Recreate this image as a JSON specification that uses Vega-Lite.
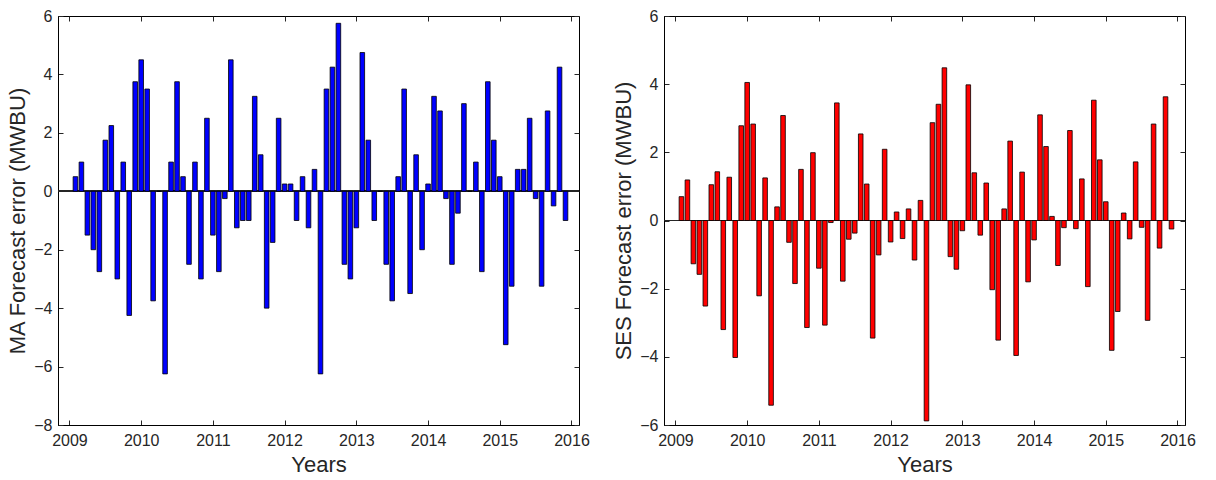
{
  "$schema": "https://vega.github.io/schema/vega-lite/v6.json",
  "background": "white",
  "padding": {"left": 6, "top": 7, "right": 5, "bottom": 5},
  "bounds": "flush",
  "spacing": 85,
  "data": {"values": [
    {"t":2009.0833,"ma":0.5,"ses":0.70},
    {"t":2009.1667,"ma":1.0,"ses":1.19},
    {"t":2009.25,"ma":-1.5,"ses":-1.27},
    {"t":2009.3333,"ma":-2.0,"ses":-1.58},
    {"t":2009.4167,"ma":-2.75,"ses":-2.51},
    {"t":2009.5,"ma":1.75,"ses":1.05},
    {"t":2009.5833,"ma":2.25,"ses":1.43},
    {"t":2009.6667,"ma":-3.0,"ses":-3.20},
    {"t":2009.75,"ma":1.0,"ses":1.27},
    {"t":2009.8333,"ma":-4.25,"ses":-4.02},
    {"t":2009.9167,"ma":3.75,"ses":2.78},
    {"t":2010,"ma":4.5,"ses":4.05},
    {"t":2010.0833,"ma":3.5,"ses":2.83},
    {"t":2010.1667,"ma":-3.75,"ses":-2.21},
    {"t":2010.25,"ma":0,"ses":1.25},
    {"t":2010.3333,"ma":-6.25,"ses":-5.42},
    {"t":2010.4167,"ma":1.0,"ses":0.40},
    {"t":2010.5,"ma":3.75,"ses":3.08},
    {"t":2010.5833,"ma":0.5,"ses":-0.64},
    {"t":2010.6667,"ma":-2.5,"ses":-1.85},
    {"t":2010.75,"ma":1.0,"ses":1.50},
    {"t":2010.8333,"ma":-3.0,"ses":-3.14},
    {"t":2010.9167,"ma":2.5,"ses":1.99},
    {"t":2011,"ma":-1.5,"ses":-1.40},
    {"t":2011.0833,"ma":-2.75,"ses":-3.07},
    {"t":2011.1667,"ma":-0.25,"ses":-0.06},
    {"t":2011.25,"ma":4.5,"ses":3.45},
    {"t":2011.3333,"ma":-1.25,"ses":-1.78},
    {"t":2011.4167,"ma":-1.0,"ses":-0.55},
    {"t":2011.5,"ma":-1.0,"ses":-0.37},
    {"t":2011.5833,"ma":3.25,"ses":2.54},
    {"t":2011.6667,"ma":1.25,"ses":1.07},
    {"t":2011.75,"ma":-4.0,"ses":-3.45},
    {"t":2011.8333,"ma":-1.75,"ses":-1.01},
    {"t":2011.9167,"ma":2.5,"ses":2.09},
    {"t":2012,"ma":0.25,"ses":-0.63},
    {"t":2012.0833,"ma":0.25,"ses":0.25},
    {"t":2012.1667,"ma":-1.0,"ses":-0.53},
    {"t":2012.25,"ma":0.5,"ses":0.34},
    {"t":2012.3333,"ma":-1.25,"ses":-1.16},
    {"t":2012.4167,"ma":0.75,"ses":0.59},
    {"t":2012.5,"ma":-6.25,"ses":-5.88},
    {"t":2012.5833,"ma":3.5,"ses":2.87},
    {"t":2012.6667,"ma":4.25,"ses":3.41},
    {"t":2012.75,"ma":5.75,"ses":4.48},
    {"t":2012.8333,"ma":-2.5,"ses":-1.06},
    {"t":2012.9167,"ma":-3.0,"ses":-1.43},
    {"t":2013,"ma":-1.25,"ses":-0.30},
    {"t":2013.0833,"ma":4.75,"ses":3.98},
    {"t":2013.1667,"ma":1.75,"ses":1.40},
    {"t":2013.25,"ma":-1.0,"ses":-0.43},
    {"t":2013.3333,"ma":0,"ses":1.10},
    {"t":2013.4167,"ma":-2.5,"ses":-2.03},
    {"t":2013.5,"ma":-3.75,"ses":-3.51},
    {"t":2013.5833,"ma":0.5,"ses":0.34},
    {"t":2013.6667,"ma":3.5,"ses":2.33},
    {"t":2013.75,"ma":-3.5,"ses":-3.96},
    {"t":2013.8333,"ma":1.25,"ses":1.42},
    {"t":2013.9167,"ma":-2.0,"ses":-1.80},
    {"t":2014,"ma":0.25,"ses":-0.57},
    {"t":2014.0833,"ma":3.25,"ses":3.10},
    {"t":2014.1667,"ma":2.75,"ses":2.17},
    {"t":2014.25,"ma":-0.25,"ses":0.12},
    {"t":2014.3333,"ma":-2.5,"ses":-1.32},
    {"t":2014.4167,"ma":-0.75,"ses":-0.21},
    {"t":2014.5,"ma":3.0,"ses":2.64},
    {"t":2014.5833,"ma":0,"ses":-0.24},
    {"t":2014.6667,"ma":1.0,"ses":1.22},
    {"t":2014.75,"ma":-2.75,"ses":-1.94},
    {"t":2014.8333,"ma":3.75,"ses":3.53},
    {"t":2014.9167,"ma":1.75,"ses":1.78},
    {"t":2015,"ma":0.5,"ses":0.55},
    {"t":2015.0833,"ma":-5.25,"ses":-3.81},
    {"t":2015.1667,"ma":-3.25,"ses":-2.67},
    {"t":2015.25,"ma":0.75,"ses":0.22},
    {"t":2015.3333,"ma":0.75,"ses":-0.54},
    {"t":2015.4167,"ma":2.5,"ses":1.72},
    {"t":2015.5,"ma":-0.25,"ses":-0.20},
    {"t":2015.5833,"ma":-3.25,"ses":-2.93},
    {"t":2015.6667,"ma":2.75,"ses":2.83},
    {"t":2015.75,"ma":-0.5,"ses":-0.81},
    {"t":2015.8333,"ma":4.25,"ses":3.63},
    {"t":2015.9167,"ma":-1.0,"ses":-0.25}
  ]},
  "hconcat": [
    {
      "width": 521,
      "height": 409,
      "resolve": {"axis": {"x": "independent", "y": "independent"}},
      "layer": [
        {
          "mark": {"type": "rule", "color": "#262626", "strokeWidth": 1},
          "encoding": {"y": {"datum": 0, "type": "quantitative", "axis": null}}
        },
        {
          "mark": {"type": "bar", "width": 4.6, "fill": "#0000ff", "stroke": "#000000", "strokeWidth": 0.8},
          "encoding": {
            "x": {"field": "t", "type": "quantitative", "scale": {"domain": [2008.91, 2016.035], "nice": false, "zero": false},
                  "axis": {"title": "Years", "values": [2009,2010,2011,2012,2013,2014,2015,2016], "format": "d", "tickSize": -5, "labelPadding": 12, "titlePadding": 6}},
            "y": {"field": "ma", "type": "quantitative", "scale": {"domain": [-8, 6], "nice": false},
                  "axis": {"title": "MA Forecast error (MWBU)", "values": [-8,-6,-4,-2,0,2,4,6], "tickSize": -5, "labelPadding": 11, "titlePadding": 4}}
          }
        },
        {
          "mark": {"type": "point", "opacity": 0},
          "encoding": {
            "x": {"field": "t", "type": "quantitative", "axis": {"orient": "top", "labels": false, "title": null, "domain": false, "values": [2009,2010,2011,2012,2013,2014,2015,2016], "tickSize": -5}},
            "y": {"field": "ma", "type": "quantitative", "axis": {"orient": "right", "labels": false, "title": null, "domain": false, "values": [-8,-6,-4,-2,0,2,4,6], "tickSize": -5}}
          }
        }
      ]
    },
    {
      "width": 521,
      "height": 409,
      "resolve": {"axis": {"x": "independent", "y": "independent"}},
      "layer": [
        {
          "mark": {"type": "rule", "color": "#262626", "strokeWidth": 1},
          "encoding": {"y": {"datum": 0, "type": "quantitative", "axis": null}}
        },
        {
          "mark": {"type": "bar", "width": 4.6, "fill": "#ff0000", "stroke": "#000000", "strokeWidth": 0.8},
          "encoding": {
            "x": {"field": "t", "type": "quantitative", "scale": {"domain": [2008.91, 2016.035], "nice": false, "zero": false},
                  "axis": {"title": "Years", "values": [2009,2010,2011,2012,2013,2014,2015,2016], "format": "d", "tickSize": -5, "labelPadding": 12, "titlePadding": 6}},
            "y": {"field": "ses", "type": "quantitative", "scale": {"domain": [-6, 6], "nice": false},
                  "axis": {"title": "SES Forecast error (MWBU)", "values": [-6,-4,-2,0,2,4,6], "tickSize": -5, "labelPadding": 11, "titlePadding": 4}}
          }
        },
        {
          "mark": {"type": "point", "opacity": 0},
          "encoding": {
            "x": {"field": "t", "type": "quantitative", "axis": {"orient": "top", "labels": false, "title": null, "domain": false, "values": [2009,2010,2011,2012,2013,2014,2015,2016], "tickSize": -5}},
            "y": {"field": "ses", "type": "quantitative", "axis": {"orient": "right", "labels": false, "title": null, "domain": false, "values": [-6,-4,-2,0,2,4,6], "tickSize": -5}}
          }
        }
      ]
    }
  ],
  "config": {
    "font": "Liberation Sans",
    "view": {"stroke": "#000000", "strokeWidth": 1},
    "axis": {
      "grid": false,
      "labelFontSize": 16,
      "titleFontSize": 22,
      "titleFontWeight": "normal",
      "labelColor": "#262626",
      "titleColor": "#262626",
      "domainColor": "#000000",
      "tickColor": "#262626"
    }
  }
}
